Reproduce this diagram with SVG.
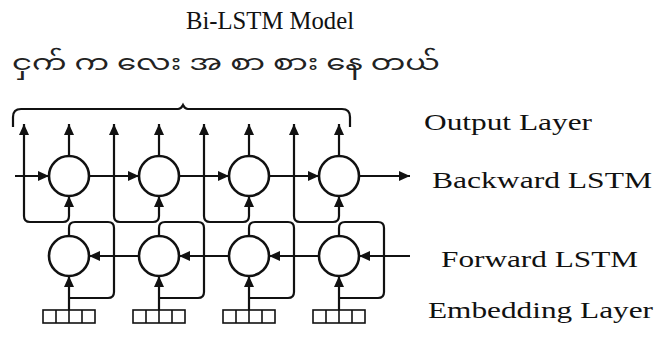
<svg xmlns="http://www.w3.org/2000/svg" width="656" height="338" viewBox="0 0 656 338">
<style>
.ln{fill:none;stroke:#111;stroke-width:2.2}
.arr{marker-end:url(#ah)}
.cell{fill:#fff;stroke:#111;stroke-width:2.6}
.box{fill:#fff;stroke:#111;stroke-width:1.6}
.lbl{font-family:"Liberation Serif","Times New Roman",serif;font-size:24px;fill:#111}
.ttl{font-family:"Liberation Serif","Times New Roman",serif;font-size:26px;fill:#111}
.my{font-family:"Noto Sans Myanmar","Padauk","Myanmar Text","Noto Sans",sans-serif;font-size:22px;fill:#222}
</style>
<defs>
<marker id="ah" markerUnits="userSpaceOnUse" markerWidth="11" markerHeight="10" refX="11" refY="5" orient="auto">
<path d="M0,0 L11,5 L0,10 z" fill="#111"/>
</marker>
</defs>
<rect width="656" height="338" fill="#fff"/>
<text class="ttl" x="186" y="29" textLength="168" lengthAdjust="spacingAndGlyphs">Bi-LSTM Model</text>
<text class="my" x="12" y="70" textLength="428" lengthAdjust="spacingAndGlyphs">ငှက် က လေး အ စာ စား နေ တယ်</text>
<g id="labels">
<text class="lbl" x="424" y="130" textLength="168" lengthAdjust="spacingAndGlyphs">Output Layer</text>
<text class="lbl" x="432" y="188" textLength="220" lengthAdjust="spacingAndGlyphs">Backward LSTM</text>
<text class="lbl" x="441" y="267" textLength="197" lengthAdjust="spacingAndGlyphs">Forward LSTM</text>
<text class="lbl" x="428" y="318" textLength="225" lengthAdjust="spacingAndGlyphs">Embedding Layer</text>
</g>
<g id="connectors">
<path class="ln" d="M13,127 V117 Q13,109 21,109 H178 Q181,109 183,105 Q185,109 188,109 H342 Q350,109 350,117 V127"/>
<path class="ln arr" d="M15,176 H49"/>
<path class="ln arr" d="M89,176 H139"/>
<path class="ln arr" d="M179,176 H229"/>
<path class="ln arr" d="M269,176 H319"/>
<path class="ln arr" d="M359,176 H410"/>
<path class="ln arr" d="M410,256 H359"/>
<path class="ln arr" d="M319,256 H269"/>
<path class="ln arr" d="M229,256 H179"/>
<path class="ln arr" d="M139,256 H89"/>
<path class="ln arr" d="M69,156 V124"/>
<path class="ln arr" d="M159,156 V124"/>
<path class="ln arr" d="M249,156 V124"/>
<path class="ln arr" d="M339,156 V124"/>
<path class="ln arr" d="M63,222 H30 Q24,222 24,216 V124"/>
<path class="ln arr" d="M153,222 H120 Q114,222 114,216 V124"/>
<path class="ln arr" d="M243,222 H210 Q204,222 204,216 V124"/>
<path class="ln arr" d="M333,222 H300 Q294,222 294,216 V124"/>
<path class="ln arr" d="M63,222 Q69,222 69,216 V196"/>
<path class="ln arr" d="M153,222 Q159,222 159,216 V196"/>
<path class="ln arr" d="M243,222 Q249,222 249,216 V196"/>
<path class="ln arr" d="M333,222 Q339,222 339,216 V196"/>
<path class="ln" d="M69,298 H108 Q114,298 114,292 V228 Q114,222 108,222 H75 Q69,222 69,228 V236"/>
<path class="ln" d="M159,298 H198 Q204,298 204,292 V228 Q204,222 198,222 H165 Q159,222 159,228 V236"/>
<path class="ln" d="M249,298 H288 Q294,298 294,292 V228 Q294,222 288,222 H255 Q249,222 249,228 V236"/>
<path class="ln" d="M339,298 H378 Q384,298 384,292 V228 Q384,222 378,222 H345 Q339,222 339,228 V236"/>
<path class="ln arr" d="M69,310 V276"/>
<path class="ln arr" d="M159,310 V276"/>
<path class="ln arr" d="M249,310 V276"/>
<path class="ln arr" d="M339,310 V276"/>
</g>
<g id="bw1"><circle class="cell" cx="69" cy="176" r="20"/></g>
<g id="bw2"><circle class="cell" cx="159" cy="176" r="20"/></g>
<g id="bw3"><circle class="cell" cx="249" cy="176" r="20"/></g>
<g id="bw4"><circle class="cell" cx="339" cy="176" r="20"/></g>
<g id="fw1"><circle class="cell" cx="69" cy="256" r="20"/></g>
<g id="fw2"><circle class="cell" cx="159" cy="256" r="20"/></g>
<g id="fw3"><circle class="cell" cx="249" cy="256" r="20"/></g>
<g id="fw4"><circle class="cell" cx="339" cy="256" r="20"/></g>
<g id="emb1"><rect class="box" x="43" y="310" width="52" height="13"/><path class="box" d="M56,310 V323 M69,310 V323 M82,310 V323"/></g>
<g id="emb2"><rect class="box" x="133" y="310" width="52" height="13"/><path class="box" d="M146,310 V323 M159,310 V323 M172,310 V323"/></g>
<g id="emb3"><rect class="box" x="223" y="310" width="52" height="13"/><path class="box" d="M236,310 V323 M249,310 V323 M262,310 V323"/></g>
<g id="emb4"><rect class="box" x="313" y="310" width="52" height="13"/><path class="box" d="M326,310 V323 M339,310 V323 M352,310 V323"/></g>
</svg>
